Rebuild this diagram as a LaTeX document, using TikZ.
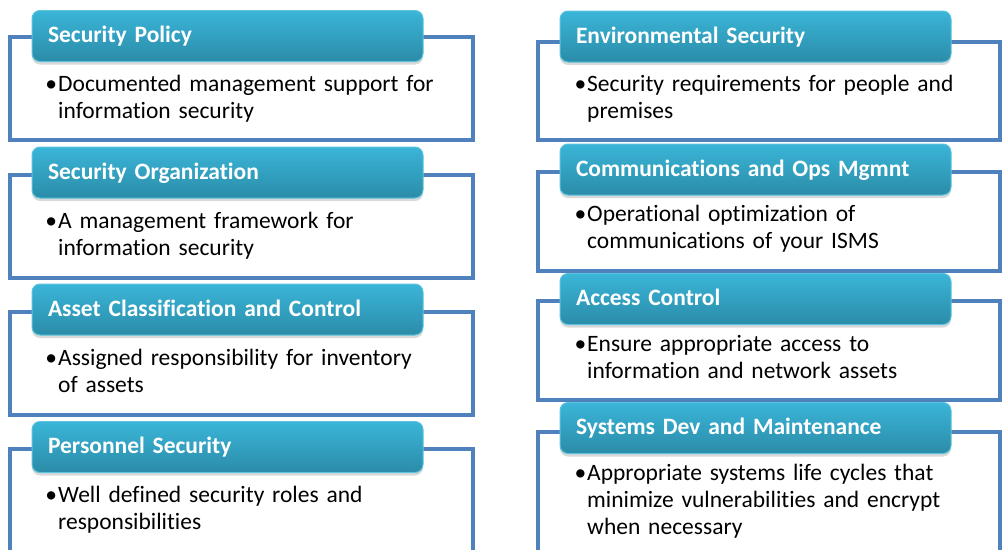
\documentclass[tikz,border=0pt]{standalone}
\usepackage{fontspec}
\setmainfont{Carlito}[Ligatures=NoCommon]
\usetikzlibrary{shadows}
\definecolor{frameblue}{HTML}{4F81BD}
\definecolor{capTop}{HTML}{3AB5D8}
\definecolor{capBot}{HTML}{2B8CA8}
\definecolor{capEdge}{HTML}{5CC3DE}
\tikzset{
    framebox/.style={draw=frameblue, line width=4pt, rectangle, inner sep=0pt, anchor=north},
    headbox/.style={draw=capEdge, line width=1pt, rounded corners=8pt, top color=capTop, bottom color=capBot,
        minimum width=391pt, minimum height=51pt, text width=359pt, inner xsep=16pt, inner ysep=0pt,
        align=left, text height=15.5pt, text depth=2.5pt, text=white,
        font=\bfseries\fontsize{23.5}{27}\selectfont,
        drop shadow={shadow xshift=0pt, shadow yshift=-3pt, opacity=.3}},
    itemtext/.style={anchor=base west, align=left, text width=410pt, inner sep=0pt,
        font=\fontsize{23.5}{27.3}\selectfont}
}
\newcommand{\bul}{\llap{\textbullet\hspace{1pt}}}

\begin{document}
\begin{tikzpicture}[x=1pt, y=-1pt]

    \useasboundingbox (0,0) rectangle (1008,549);
    \clip (0,0) rectangle (1008,549);

    \node[framebox, minimum width=463pt, minimum height=103pt] (frPolicy) at (241.5,35) {};
    \node[headbox] (hdPolicy) at (227.5,36) {Security Policy};
    \node[itemtext] (txPolicy) at (58,91) {\bul Documented management support for\\information security};

    \node[framebox, minimum width=463pt, minimum height=103pt] (frOrg) at (241.5,173) {};
    \node[headbox] (hdOrg) at (227.5,172.5) {Security Organization};
    \node[itemtext] (txOrg) at (58,228) {\bul A management framework for\\information security};

    \node[framebox, minimum width=463pt, minimum height=103pt] (frAsset) at (241.5,310) {};
    \node[headbox] (hdAsset) at (227.5,309.5) {Asset Classification and Control};
    \node[itemtext] (txAsset) at (58,365) {\bul Assigned responsibility for inventory\\of assets};

    \node[framebox, minimum width=463pt, minimum height=130pt] (frStaff) at (241.5,447) {};
    \node[headbox] (hdStaff) at (227.5,447) {Personnel Security};
    \node[itemtext] (txStaff) at (58,502) {\bul Well defined security roles and\\responsibilities};

    \node[framebox, minimum width=462pt, minimum height=98pt] (frEnv) at (769,40) {};
    \node[headbox] (hdEnv) at (755.5,36.5) {Environmental Security};
    \node[itemtext] (txEnv) at (587,91) {\bul Security requirements for people and\\premises};

    \node[framebox, minimum width=462pt, minimum height=99pt] (frComm) at (769,170) {};
    \node[headbox] (hdComm) at (755.5,169.5) {Communications and Ops Mgmnt};
    \node[itemtext] (txComm) at (587,221) {\bul Operational optimization of\\communications of your ISMS};

    \node[framebox, minimum width=462pt, minimum height=99pt] (frAccess) at (769,299) {};
    \node[headbox] (hdAccess) at (755.5,299) {Access Control};
    \node[itemtext] (txAccess) at (587,351) {\bul Ensure appropriate access to\\information and network assets};

    \node[framebox, minimum width=462pt, minimum height=130pt] (frDev) at (769,430) {};
    \node[headbox] (hdDev) at (755.5,428) {Systems Dev and Maintenance};
    \node[itemtext] (txDev) at (587,480) {\bul Appropriate systems life cycles that\\minimize vulnerabilities and encrypt\\when necessary};
\end{tikzpicture}
\end{document}
